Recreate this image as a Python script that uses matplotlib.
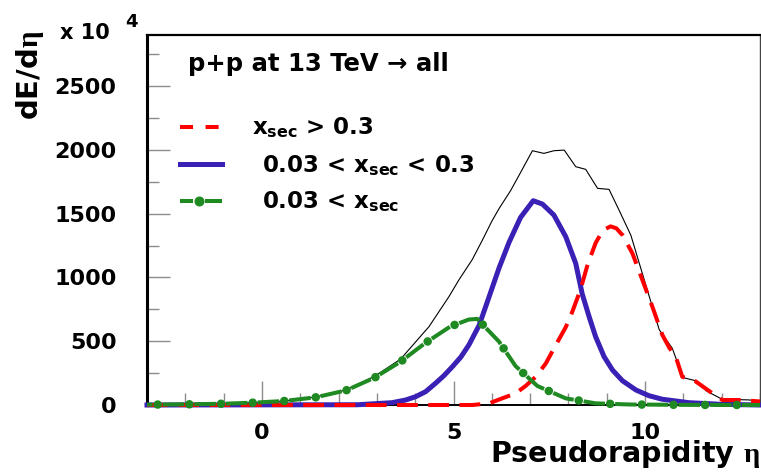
import matplotlib
matplotlib.use('Agg')
import matplotlib.pyplot as plt
from matplotlib.lines import Line2D
from matplotlib.ticker import MultipleLocator

# ---------------- data ----------------
eta_total = [-3.0, -2.0, -1.0, -0.25, 0.57, 1.4, 2.2, 2.94, 3.62, 4.36, 4.88, 5.14, 5.49,
             5.75, 6.0, 6.19, 6.49, 6.71, 7.06, 7.36, 7.62, 7.89, 8.19, 8.45, 8.76, 9.06,
             9.32, 9.63, 10.02, 10.37, 10.71, 10.99, 11.32, 11.6, 12.05, 12.4, 12.7, 13.0]
dE_total = [3, 5, 10, 18, 31, 62, 118, 225, 360, 614, 849, 980, 1140,
            1290, 1440, 1540, 1680, 1800, 1993, 1972, 1993, 1998, 1868, 1847, 1698, 1690,
            1528, 1330, 940, 590, 445, 215, 190, 110, 39, 42, 40, 30]

eta_prim = [-3.0, 2.5, 3.39, 3.75, 4.01, 4.27, 4.53, 4.75, 4.97, 5.19, 5.40, 5.67, 5.93,
            6.19, 6.45, 6.75, 7.08, 7.32, 7.62, 7.93, 8.19, 8.36, 8.54, 8.71, 8.93, 9.15,
            9.41, 9.76, 10.10, 10.45, 11.15, 12.0, 13.0]
dE_prim = [0, 2, 18, 39, 65, 104, 170, 230, 300, 375, 470, 625, 849,
           1075, 1275, 1470, 1601, 1575, 1489, 1319, 1110, 870, 692, 535, 379, 274,
           190, 118, 73, 45, 18, 5, 0]

eta_red = [-3.0, 5.5, 5.93, 6.27, 6.62, 6.88, 7.15, 7.41, 7.67, 7.93, 8.10, 8.31, 8.50,
           8.71, 8.90, 9.10, 9.25, 9.41, 9.67, 9.93, 10.19, 10.45, 10.63, 10.80, 10.97,
           11.32, 11.76, 12.02, 12.45, 13.0]
dE_red = [0, 0, 13, 52, 91, 149, 222, 326, 470, 610, 730, 900, 1100,
          1270, 1370, 1400, 1385, 1332, 1189, 980, 771, 550, 450, 380, 222,
          185, 91, 39, 39, 28]

eta_sec = [-3.0, -2.0, -1.0, -0.25, 0.57, 1.4, 2.2, 2.94, 3.62, 4.25, 4.91, 5.4, 5.62,
           6.19, 6.62, 7.19, 7.93, 8.71, 9.6, 11.0, 13.0]
dE_sec = [3, 5, 10, 18, 31, 60, 115, 214, 340, 483, 614, 670, 675,
          496, 305, 149, 52, 13, 4, 1, 0]

labels = [r'$\mathrm{x}_{\mathrm{sec}}$ > 0.3',
          r'0.03 < $\mathrm{x}_{\mathrm{sec}}$ < 0.3',
          r'0.03 < $\mathrm{x}_{\mathrm{sec}}$']
title_text = 'p+p at 13 TeV \u2192 all'
xlabel_text = r'Pseudorapidity $\eta$'
ylabel_text = r'dE/d$\eta$'

# ---------------- style ----------------
plt.rcParams['font.family'] = ['DejaVu Sans']
plt.rcParams['font.weight'] = 'bold'
plt.rcParams['mathtext.fontset'] = 'custom'
plt.rcParams['mathtext.rm'] = 'DejaVu Sans:bold'
plt.rcParams['mathtext.bf'] = 'DejaVu Sans:bold'
plt.rcParams['mathtext.it'] = 'Liberation Serif'
plt.rcParams['lines.scale_dashes'] = False

RED = '#ff0000'
BLUE = '#3a20b4'
GREEN = '#1f8a22'

W, H = 761, 475
fig = plt.figure(figsize=(W / 100, H / 100), dpi=100)
ax = fig.add_axes([147 / W, 70 / H, 613 / W, 370 / H])

ax.plot(eta_total, dE_total, color='black', lw=0.8, clip_on=False, zorder=2)
ax.plot(eta_prim, dE_prim, color=BLUE, lw=3.6, clip_on=False, zorder=3,
        solid_joinstyle='round')
ax.plot(eta_red, dE_red, color=RED, lw=2.9, ls=(0, (15, 7.5)), clip_on=False, zorder=4)
ax.plot(eta_sec, dE_sec, color=GREEN, lw=2.9, ls=(11.5, (15.5, 7.3)), clip_on=False,
        zorder=5)
ax.plot(eta_sec, dE_sec, color=GREEN, lw=6.2, ls=(15.1, (0.01, 22.79)),
        dash_capstyle='round', clip_on=False, zorder=6)

ax.set_xlim(-3, 13)
ax.set_ylim(0, 2900)
ax.xaxis.set_major_locator(MultipleLocator(5))
ax.xaxis.set_minor_locator(MultipleLocator(1))
ax.yaxis.set_major_locator(MultipleLocator(500))
ax.yaxis.set_minor_locator(MultipleLocator(250))
ax.tick_params(which='both', direction='in', color='#8c8c8c', width=1,
               top=False, right=False, labelsize=16)
ax.tick_params(axis='x', which='major', length=17, pad=13)
ax.tick_params(axis='x', which='minor', length=8.6)
ax.tick_params(axis='y', which='major', length=16.5, pad=22)
ax.tick_params(axis='y', which='minor', length=8.6)

for side, lw, col in [('left', 2.2, 'black'), ('top', 1.6, 'black'),
                      ('bottom', 1.4, 'black'), ('right', 1.0, '#444444')]:
    ax.spines[side].set_linewidth(lw)
    ax.spines[side].set_color(col)

# title text inside the frame
ax.text(0.0669, 0.9027, title_text, transform=ax.transAxes, fontsize=17.5,
        va='baseline', ha='left')

# legend (manual, frameless)
kx0, kx1 = 0.0538, 0.1223
rows_y = [0.7514, 0.6514, 0.5514]
text_y = [0.7297, 0.6270, 0.5297]
text_x = [0.1713, 0.1876, 0.1876]
ax.add_line(Line2D([kx0, kx1], [rows_y[0]] * 2, transform=ax.transAxes, color=RED,
                   lw=2.9, ls=(0, (9.4, 9.0)), clip_on=False))
ax.add_line(Line2D([kx0, kx1], [rows_y[1]] * 2, transform=ax.transAxes, color=BLUE,
                   lw=3.6, clip_on=False))
ax.add_line(Line2D([kx0, kx1], [rows_y[2]] * 2, transform=ax.transAxes, color=GREEN,
                   lw=2.9, ls=(0, (9.4, 8.6, 12.3, 1.0)), clip_on=False))
ax.add_line(Line2D([(kx0 * 0.55 + kx1 * 0.45)], [rows_y[2]], transform=ax.transAxes,
                   color=GREEN, marker='o', ms=6.2, ls='none', clip_on=False))
for lab, tx, ty in zip(labels, text_x, text_y):
    ax.text(tx, ty, lab, transform=ax.transAxes, fontsize=16.5, va='baseline', ha='left')

# axis titles
fig.text(760 / W, (H - 462) / H, xlabel_text, ha='right', va='baseline', fontsize=20.5)
fig.text(30 / W, 1 - 75 / H, ylabel_text, rotation=90, ha='center', va='center',
         fontsize=21)
fig.text(60 / W, 1 - 39 / H, 'x 10', fontsize=15, va='baseline', ha='left')
fig.text(125 / W, 1 - 27 / H, '4', fontsize=13, va='baseline', ha='left')

fig.savefig('out.png', dpi=100)
